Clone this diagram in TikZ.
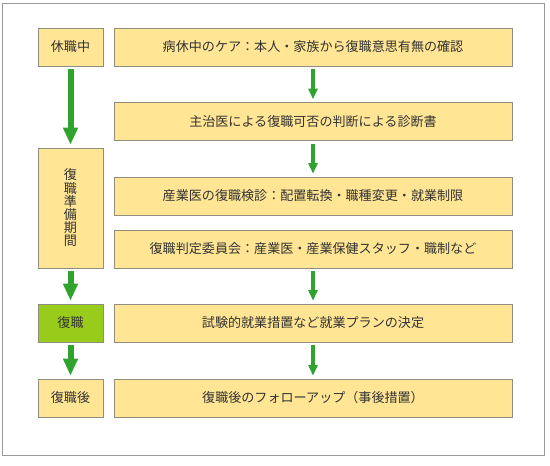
\documentclass[tikz,border=0pt]{standalone}
\usepackage{fontspec}
\setmainfont{Noto Sans CJK JP}
\usetikzlibrary{arrows.meta,shadows}
\definecolor{boxfill}{HTML}{FFE594}
\definecolor{boxline}{HTML}{8E8E80}
\definecolor{stepgreen}{HTML}{99CC1A}
\definecolor{arrowgreen}{HTML}{30A32F}
\definecolor{textgray}{HTML}{333333}
\definecolor{framegray}{HTML}{999999}
\begin{document}
\begin{tikzpicture}[x=0.75pt,y=-0.75pt,
  box/.style={draw=boxline,fill=boxfill,text=textgray,inner sep=0pt,align=center,
    font=\fontsize{9.8}{9.9}\selectfont,
    drop shadow={shadow xshift=0.75pt,shadow yshift=-0.75pt,fill=black!22,opacity=1}},
  phase/.style={box,minimum width=48.75pt,minimum height=28.5pt},
  task/.style={box,minimum width=298.5pt,minimum height=28.5pt},
  bigarrow/.style={draw=arrowgreen,line width=4.5pt,-{Triangle[width=10.5pt,length=12.75pt]},
    shorten <=2.25pt,shorten >=2.25pt},
  smallarrow/.style={draw=arrowgreen,line width=3pt,-{Triangle[width=6.75pt,length=8pt]},
    shorten <=2.25pt,shorten >=2.25pt}]
\useasboundingbox (0,0) rectangle (550,466);
% frame
\draw[framegray] (2.5,3.5) rectangle (544.5,455.5);
% left column
\node[phase] (rest) at (70.5,47) {休職中};
\node[phase,minimum height=90pt] (prep) at (70.5,208) {復\\職\\準\\備\\期\\間};
\node[phase,fill=stepgreen] (back) at (70.5,323) {復職};
\node[phase] (after) at (70.5,398) {復職後};
% right column
\node[task] (care) at (313,47) {病休中のケア：本人・家族から復職意思有無の確認};
\node[task] (doctor) at (313,121.5) {主治医による復職可否の判断による診断書};
\node[task] (check) at (313,196) {産業医の復職検診：配置転換・職種変更・就業制限};
\node[task] (board) at (313,249) {復職判定委員会：産業医・産業保健スタッフ・職制など};
\node[task] (plan) at (313,323) {試験的就業措置など就業プランの決定};
\node[task] (follow) at (313,398) {復職後のフォローアップ（事後措置）};
% arrows
\draw[bigarrow] (rest) -- (prep);
\draw[bigarrow] (prep) -- (back);
\draw[bigarrow] (back) -- (after);
\draw[smallarrow] (care) -- (doctor);
\draw[smallarrow] (doctor) -- (check);
\draw[smallarrow] (board) -- (plan);
\draw[smallarrow] (plan) -- (follow);
\end{tikzpicture}
\end{document}
